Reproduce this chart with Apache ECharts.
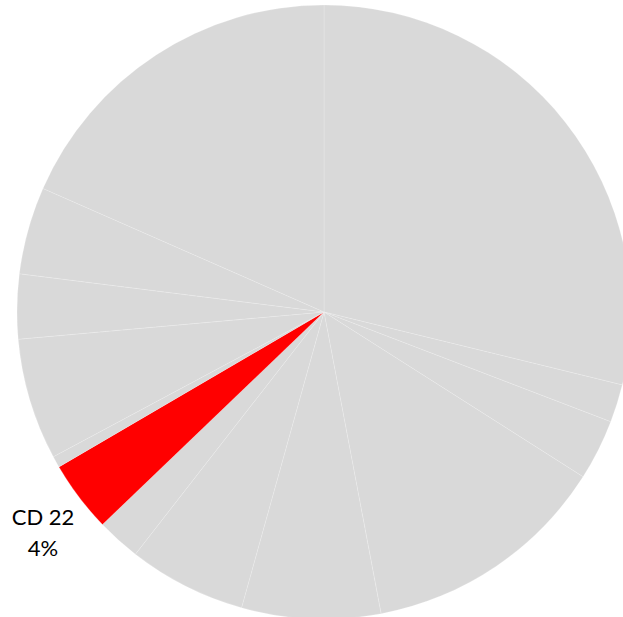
<!DOCTYPE html>
<html>
<head>
<meta charset="utf-8">
<script src="https://cdn.jsdelivr.net/npm/echarts@6/dist/echarts.min.js"></script>
<style>
  html, body { margin: 0; padding: 0; background: #fff; }
  #chartPie { width: 623px; height: 617px; }
</style>
</head>
<body>
<div id="chartPie"></div>
<script>
// slices clockwise from 12 o'clock (share in %)
const categories = ["CD 1", "CD 2", "CD 3", "CD 4", "CD 5", "CD 6", "CD 7", "CD 22", "CD 8", "CD 9", "CD 10", "CD 11", "CD 12"];
const values = [28.8, 2.0, 3.2, 13.0, 7.3, 6.2, 2.3, 3.75, 0.6, 6.4, 3.4, 4.6, 18.4];
const highlighted = "CD 22";

const chartPie = echarts.init(document.getElementById("chartPie"), null, {renderer: "svg"});

const data = categories.map((name, i) => {
  const item = {name: name, value: values[i]};
  if (name === highlighted) {
    item.itemStyle = {color: "#ff0000"};
    item.label = {show: true};
  }
  return item;
});

const options = {
  animation: false,
  series: [{
    type: "pie",
    center: [324, 312],
    radius: 307,
    startAngle: 90,
    clockwise: true,
    percentPrecision: 0,
    avoidLabelOverlap: false,
    itemStyle: {
      color: "#d9d9d9",
      borderColor: "rgba(255,255,255,0.3)",
      borderWidth: 0.6
    },
    label: {
      show: false,
      position: "outside",
      formatter: "{b}\n{d}%",
      color: "#000",
      fontFamily: "Lato",
      fontSize: 22,
      lineHeight: 31,
      align: "center",
      overflow: "none",
      width: 120
    },
    labelLine: {show: false},
    labelLayout: function () {
      return {x: 43, y: 532, align: "center", verticalAlign: "middle"};
    },
    emphasis: {disabled: true},
    data: data
  }]
};

chartPie.setOption(options, true);
</script>
</body>
</html>
